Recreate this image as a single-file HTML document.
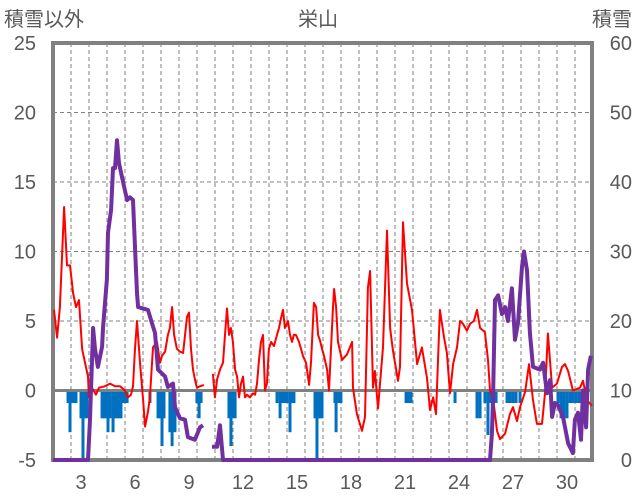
<!DOCTYPE html>
<html><head><meta charset="utf-8">
<style>
html,body{margin:0;padding:0;background:#fff;}
svg{display:block;font-family:"Liberation Sans","Noto Sans CJK JP",sans-serif;}
</style></head>
<body>
<svg id="chart" width="636" height="501" viewBox="0 0 636 501">
<text x="4" y="26" font-size="20" fill="#595959">積雪以外</text>
<text x="318" y="26" font-size="20" fill="#595959" text-anchor="middle">栄山</text>
<text x="632" y="26" font-size="20" fill="#595959" text-anchor="end">積雪</text>
<g id="grid"></g>
<g id="bars"></g>
<g id="zero"></g>
<rect x="53" y="43" width="539" height="417" fill="none" stroke="#808080" stroke-width="4"/>
<g id="lines"></g>
<g id="ticks"></g>
</svg>
<script>
const leftTicks=[25,20,15,10,5,0,-5];
const rightTicks=[60,50,40,30,20,10,0];
const xTicks=[3,6,9,12,15,18,21,24,27,30];
const tempDays=[1.50,1.67,1.83,2.06,2.22,2.39,2.56,2.72,2.89,3.06,3.22,3.39,3.44,3.61,3.83,4.00,4.33,4.61,4.89,5.17,5.44,5.61,5.78,5.89,6.00,6.11,6.28,6.44,6.56,6.72,6.83,7.00,7.22,7.39,7.50,7.67,7.83,7.94,8.06,8.17,8.33,8.50,8.67,8.89,9.00,9.11,9.22,9.33,9.44,9.61,9.83,10.0,10.33,10.44,10.56,10.72,10.89,11.00,11.11,11.22,11.33,11.44,11.56,11.67,11.78,11.89,12.00,12.11,12.22,12.39,12.56,12.67,12.78,12.89,13.00,13.11,13.22,13.33,13.44,13.56,13.72,13.89,14.00,14.11,14.22,14.33,14.50,14.61,14.72,14.83,14.94,15.11,15.22,15.33,15.50,15.67,15.78,15.94,16.06,16.17,16.28,16.39,16.50,16.67,16.78,16.89,17.00,17.06,17.17,17.28,17.50,17.78,18.06,18.11,18.33,18.61,18.78,18.94,19.06,19.22,19.33,19.50,19.61,19.78,20.00,20.17,20.33,20.61,20.72,20.89,21.11,21.39,21.67,21.94,22.22,22.39,22.56,22.72,22.94,23.17,23.33,23.50,23.67,23.89,24.06,24.22,24.44,24.61,24.83,25.00,25.17,25.44,25.61,25.72,25.89,26.11,26.28,26.56,26.83,27.00,27.22,27.39,27.67,27.89,28.11,28.33,28.61,28.78,28.94,29.17,29.44,29.72,29.89,30.06,30.33,30.72,30.89,31.11,31.39];
const tempValues=[5.8,3.8,6,13.2,9,9,7,6,6.5,3,2,1,-0.5,0.2,-0.3,0.2,0.3,0.5,0.3,0.3,0,-0.5,-0.3,0.3,3,5,2,-0.5,-2.6,-1.5,-0.5,3.1,3.5,2,2.5,2.8,4,4.5,6,4,3,2.8,2.7,5.3,5.6,3,1.5,0.8,0.2,0.3,0.4,null,1.2,-0.5,0.8,1.5,2,4,5.9,4,4.5,3.5,1.5,1,-0.5,0.5,1,-0.5,-0.3,-0.5,-0.2,-0.3,0.5,2.2,3.5,4,0,0.5,3,3.5,3.2,4,4.5,5.2,5.8,4.5,5,4,3.5,4,4,3.5,3,2.5,2,0.4,2,6.3,6,4,3.6,3,2.5,1.5,0,3,6,7.3,6,3.5,2.2,2.6,3.5,0.2,-1.7,-2.9,-1.9,7.4,8.6,0.2,1.4,-1.3,0.5,3.1,11.5,4.5,2.9,0.7,1.7,12.1,7.7,5.8,1.9,3.1,0.9,-1.4,-0.5,-1.7,5.8,3.8,2.7,-0.2,1.9,3.1,5.0,4.8,4.3,4.8,5.0,5.8,4.5,4.2,2.2,0,-0.5,-2.9,-3.5,-3.1,-1.7,-1.2,-2.2,-1.2,-0.1,1.9,-0.7,-2.4,-2.4,-0.2,4.1,0.2,0.5,1.7,1.9,1.4,0,0.2,0.7,-0.7,-1.1];
const snowDays=[1.44,3.39,3.50,3.67,3.78,3.94,4.17,4.22,4.44,4.50,4.67,4.78,4.89,5.00,5.11,5.28,5.44,5.56,5.72,5.89,6.00,6.11,6.17,6.72,6.94,7.11,7.28,7.67,7.83,8.11,8.22,8.50,8.78,8.94,9.33,9.61,9.78,10.0,10.28,10.56,10.72,10.89,25.72,25.83,25.89,26.00,26.17,26.39,26.56,26.72,26.94,27.11,27.28,27.50,27.61,27.78,27.94,28.11,28.50,28.67,28.89,29.06,29.17,29.33,29.50,29.78,30.06,30.33,30.44,30.61,30.78,30.89,31.06,31.17,31.33];
const snowValues=[0,0,5.8,19,16,13.4,16.3,19,26,32.7,36,42,42,46,42.7,40.7,38.8,37.4,37.8,37.4,30.6,24,22,21.6,19.7,18.3,13,12,10.5,11,7.6,6,5.8,3.3,2.9,4.7,5,null,1.9,1.9,5,0,0,3.8,8.6,23,23.7,21,22,20,24.7,17.3,19.7,27.8,30,27.3,18.3,13.4,13,14,9.6,11.5,6.2,8.2,7.9,6.2,2.4,1,5.8,6.8,2.9,10,4.7,13,15];
const precipDays=[2.28,2.39,2.50,2.61,2.72,3.00,3.11,3.22,3.33,4.17,4.28,4.39,4.50,4.61,4.78,4.89,5.00,5.11,5.22,5.33,5.44,5.56,6.83,7.28,7.39,7.50,7.61,7.94,8.06,8.22,9.44,9.56,9.67,11.22,11.33,11.44,11.56,13.89,14.06,14.17,14.33,14.44,14.61,14.72,14.83,16.00,16.11,16.22,16.28,16.39,17.11,17.17,17.33,17.44,21.06,21.17,21.33,23.78,25.00,25.17,25.44,25.61,25.72,25.89,26.06,26.67,26.83,27.00,27.17,27.39,29.50,29.67,29.83,30.00,30.17,30.33,30.50,30.67,30.83,31.00];
const precipValues=[-0.9,-3,-0.9,-0.9,-0.9,-2,-5,-2,-2,-2,-2,-2,-3,-2,-3,-2,-2,-2,-2,-0.9,-0.9,-0.9,-0.9,-2,-2,-4,-2,-3,-4,-3,-0.9,-2,-0.9,-2,-4,-2,-2,-0.9,-2,-0.9,-0.9,-0.9,-3,-0.9,-0.9,-2,-5,-2,-2,-2,-0.9,-3,-0.9,-0.9,-0.9,-0.9,-0.9,-0.9,-2,-2,-0.9,-3.2,-0.9,-0.9,-0.9,-0.9,-0.9,-0.9,-0.9,-0.9,-0.9,-2,-2,-2,-0.9,-0.9,-0.9,-0.9,-0.9,-0.9];

const NS='http://www.w3.org/2000/svg';
const X0=53,X1=592,Y0=43,Y1=460;
function xs(d){return 27+18*d;}
function yl(v){return Y1-(v+5)/30*(Y1-Y0);}
function yr(v){return Y1-v/60*(Y1-Y0);}
function mk(tag,attrs,parent){const e=document.createElementNS(NS,tag);for(const k in attrs)e.setAttribute(k,attrs[k]);parent.appendChild(e);return e;}
const grid=document.getElementById('grid');
for(let gx=71;gx<X1-2;gx+=18){
  const l=mk('line',{x1:gx,x2:gx,y1:Y0,y2:Y1,stroke:'#808080','stroke-width':1,'stroke-dasharray':'4,3'},grid);
  
  
}
leftTicks.forEach(v=>{
  if(v===25||v===-5||v===0)return;
  const l=mk('line',{x1:X0,x2:X1,y1:yl(v),y2:yl(v),stroke:'#808080','stroke-width':1,'stroke-dasharray':'4,3'},grid);
  
  
});
const bars=document.getElementById('bars');
precipDays.forEach((d,i)=>{
  const v=precipValues[i];
  const r=mk('rect',{x:xs(d)-1.5,y:yl(0),width:3,height:yl(v)-yl(0),fill:'#0070C0'},bars);
  
  
});
const z=mk('line',{x1:X0,x2:X1,y1:yl(0),y2:yl(0),stroke:'#808080','stroke-width':3},document.getElementById('zero'));
function pathFor(days,vals,yf){
  let d='',pen=false;
  days.forEach((t,i)=>{const v=vals[i];if(v===null){pen=false;return;}d+=(pen?'L':'M')+xs(t).toFixed(1)+','+yf(v).toFixed(1);pen=true;});
  return d;
}
const lines=document.getElementById('lines');
const red=mk('path',{d:pathFor(tempDays,tempValues,yl),fill:'none',stroke:'#FF0000','stroke-width':2,'stroke-linejoin':'round'},lines);


const pur=mk('path',{d:pathFor(snowDays,snowValues,yr),fill:'none',stroke:'#7030A0','stroke-width':4,'stroke-linejoin':'round'},lines);


const ticks=document.getElementById('ticks');
leftTicks.forEach(v=>{
  const t=mk('text',{x:36,y:yl(v)+7,'font-size':20,fill:'#595959','text-anchor':'end'},ticks);
  t.textContent=v;
  
  
});
rightTicks.forEach(v=>{
  const t=mk('text',{x:632,y:yr(v)+7,'font-size':20,fill:'#595959','text-anchor':'end'},ticks);
  t.textContent=v;
  
  
});
xTicks.forEach(v=>{
  const t=mk('text',{x:xs(v),y:489,'font-size':20,fill:'#595959','text-anchor':'middle'},ticks);
  t.textContent=v;
  
  
});
</script>
</body></html>
